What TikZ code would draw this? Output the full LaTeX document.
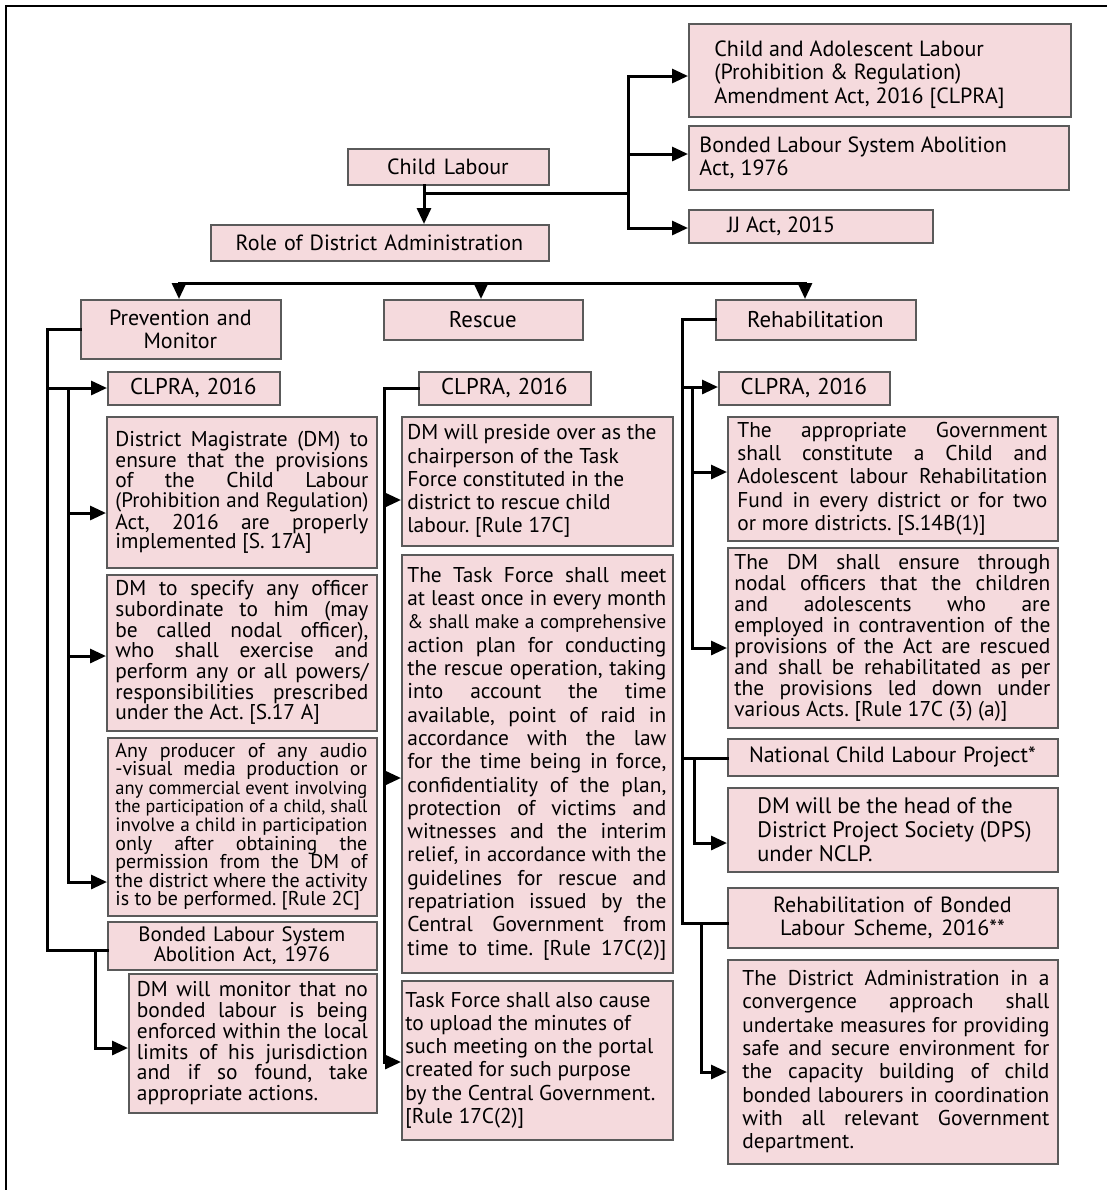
\documentclass[tikz,border=0pt]{standalone}
\usepackage{fontspec}
\setmainfont{PT Sans}
\usetikzlibrary{arrows.meta}
\definecolor{boxpink}{RGB}{245,218,221}
\definecolor{boxgray}{RGB}{90,90,90}
\makeatletter
\newcommand\fitline[2]{%
  \setbox0\hbox{#2}%
  \ifdim\wd0>\hsize
    {\fontsize{\strip@pt\dimexpr\f@size pt*\hsize/\wd0-0.05pt\relax}{\f@baselineskip}\selectfont\makebox[\hsize][#1]{#2}}%
  \else\makebox[\hsize][#1]{#2}\fi}
\makeatother
\newcommand\jl[1]{\fitline{s}{#1}}
\newcommand\rl[1]{\fitline{l}{#1}}
\newcommand\fb[1]{\fontsize{10.7}{#1}\selectfont}
\newcommand\fh[1]{\fontsize{11}{#1}\selectfont}
\newcommand\fc[1]{\fontsize{11.4}{#1}\selectfont}
\def\padx{4.25pt}
\newcommand\bx[7][]{%
  \node[box, minimum width={(#5-#3)*0.5pt}, minimum height={(#6-#4)*0.5pt}, anchor=north west] (#2) at (#3,#4) {};%
  \pgfmathsetlengthmacro\tw{(#5-#3)*0.5pt-8.5pt}%
  \node[txt, text width=\tw, #1, xshift=\padx] (#2t) at (#2.west) {\spaceskip=0pt\xspaceskip=0pt\frenchspacing #7};%
}
\tikzset{
  padx/.store in=\padx,
  box/.style={draw=boxgray, fill=boxpink, line width=0.75pt, inner sep=0pt},
  txt/.style={inner sep=0pt, anchor=west, align=left, font=\fb{11.65}},
  ln/.style={line width=1.5pt, line cap=rect, line join=miter},
  arr/.style={ln, -{Triangle[length=8pt,width=7pt]}},
}
\begin{document}
\begin{tikzpicture}[x=0.5pt, y=-0.5pt]
\useasboundingbox (0,0) rectangle (1107,1190);
% frame
\draw[line width=1.4pt] (6,1190) -- (6,6) -- (1107,6);

% top
\bx[font=\fh{11.75}, yshift=-2pt, padx=13pt, text width=180pt]{b1}{688}{23}{1070}{116}{Child and Adolescent Labour\\(Prohibition \& Regulation)\\Amendment Act, 2016 [CLPRA]}
\bx[font=\fh{11.65}, padx=5.5pt, text width=180pt]{b2}{688}{125}{1068}{189}{Bonded Labour System Abolition\\Act, 1976}
\bx[font=\fh{12}, padx=19.5pt, text width=100pt]{b3}{688}{209}{932}{242}{JJ Act, 2015}
\bx[font=\fh{12}, align=center]{cl}{347}{148}{548}{184}{Child Labour}
\bx[font=\fh{12}, align=center]{role}{210}{224}{548}{260}{Role of District Administration}

% column 1
\bx[font=\fh{11.5}, align=center]{pm}{80}{299}{280}{358}{Prevention and\\Monitor}
\bx[font=\fc{12}, align=center]{cla}{107}{371}{279}{404}{CLPRA, 2016}
\bx[font=\fb{9.85}, padx=4.5pt]{dma}{106}{416}{376}{567}{\jl{District Magistrate (DM) to}\\\jl{ensure that the provisions}\\\jl{of the Child Labour}\\\jl{(Prohibition and Regulation)}\\\jl{Act, 2016 are properly}\\\rl{implemented [S. 17A]}}
\bx[font=\fb{10.35}, padx=4.5pt]{dmb}{106}{574}{376}{730}{\jl{DM to specify any officer}\\\jl{subordinate to him (may}\\\jl{be called nodal officer),}\\\jl{who shall exercise and}\\\jl{perform any or all powers/}\\\jl{responsibilities prescribed}\\\rl{under the Act. [S.17 A]}}
\bx[font={\fontsize{10}{9.3}\selectfont}, padx=4pt]{dmc}{107}{737}{376}{915}{\jl{Any producer of any audio}\\\jl{-visual media production or}\\\jl{any commercial event involving}\\\jl{the participation of a child, shall}\\\jl{involve a child in participation}\\\jl{only after obtaining the}\\\jl{permission from the DM of}\\\jl{the district where the activity}\\\rl{is to be performed. [Rule 2C]}}
\bx[font={\fontsize{10.4}{10}\selectfont}, align=center]{bla}{107}{921}{376}{969}{Bonded Labour System\\Abolition Act, 1976}
\bx[font=\fb{10.35}]{dmd}{128}{973}{376}{1112}{\jl{DM will monitor that no}\\\jl{bonded labour is being}\\\jl{enforced within the local}\\\jl{limits of his jurisdiction}\\\jl{and if so found, take}\\\rl{appropriate actions.}}

% column 2
\bx[font=\fc{12}, align=center]{rs}{383}{299}{582}{339}{Rescue}
\bx[font=\fc{12}, align=center]{clb}{418}{371}{590}{404}{CLPRA, 2016}
\bx[font=\fb{11.65}, padx=3pt, text width=132pt]{dme}{401}{416}{672}{545}{\rl{DM will preside over as the}\\\rl{chairperson of the Task}\\\rl{Force constituted in the}\\\rl{district to rescue child}\\\rl{labour. [Rule 17C]}}
\bx[font=\fb{11.65}, padx=3pt, text width=129.5pt]{tfm}{401}{554}{672}{972}{\jl{The Task Force shall meet}\\\jl{at least once in every month}\\\jl{\& shall make a comprehensive}\\\jl{action plan for conducting}\\\jl{the rescue operation, taking}\\\jl{into account the time}\\\jl{available, point of raid in}\\\jl{accordance with the law}\\\jl{for the time being in force,}\\\jl{confidentiality of the plan,}\\\jl{protection of victims and}\\\jl{witnesses and the interim}\\\jl{relief, in accordance with the}\\\jl{guidelines for rescue and}\\\jl{repatriation issued by the}\\\jl{Central Government from}\\\jl{time to time. [Rule 17C(2)]}}
\bx[font=\fb{11.65}, padx=2pt, text width=132pt]{tfu}{401}{980}{672}{1139}{\rl{Task Force shall also cause}\\\rl{to upload the minutes of}\\\rl{such meeting on the portal}\\\rl{created for such purpose}\\\rl{by the Central Government.}\\\rl{[Rule 17C(2)]}}

% column 3
\bx[font=\fc{12}, align=center]{rh}{715}{299}{915}{339}{Rehabilitation}
\bx[font=\fc{12}, align=center]{clc}{718}{371}{889}{404}{CLPRA, 2016}
\bx[font=\fb{11.65}, padx=5pt, text width=155pt]{ag}{727}{416}{1057}{540}{\jl{The appropriate Government}\\\jl{shall constitute a Child and}\\\jl{Adolescent labour Rehabilitation}\\\jl{Fund in every district or for two}\\\rl{or more districts. [S.14B(1)]}}
\bx[font=\fb{10.5}, padx=3.5pt, text width=158pt]{dmf}{727}{547}{1057}{727}{\jl{The DM shall ensure through}\\\jl{nodal officers that the children}\\\jl{and adolescents who are}\\\jl{employed in contravention of the}\\\jl{provisions of the Act are rescued}\\\jl{and shall be rehabilitated as per}\\\jl{the provisions led down under}\\\rl{various Acts. [Rule 17C (3) (a)]}}
\bx[font=\fh{12}, align=center]{nclp}{727}{738}{1057}{775}{National Child Labour Project*}
\bx[font={\fontsize{11.2}{11.9}\selectfont}, padx=15pt, text width=145pt]{dmg}{727}{787}{1057}{871}{\rl{DM will be the head of the}\\\rl{District Project Society (DPS)}\\\rl{under NCLP.}}
\bx[font=\fh{11.65}, align=center]{rbs}{727}{887}{1057}{947}{Rehabilitation of Bonded\\Labour Scheme, 2016**}
\bx[font=\fb{11.65}, padx=7.5pt, text width=153.5pt]{da}{727}{959}{1057}{1163}{\jl{The District Administration in a}\\\jl{convergence approach shall}\\\jl{undertake measures for providing}\\\jl{safe and secure environment for}\\\jl{the capacity building of child}\\\jl{bonded labourers in coordination}\\\jl{with all relevant Government}\\\rl{department.}}

% ---- connectors: top
\coordinate (c424) at (424,193);
\coordinate (j628) at (628,193);
\coordinate (ta) at (628,76);
\coordinate (tb) at (628,154);
\coordinate (tc) at (628,228);
\draw[arr] (cl.south -| c424) -- (role.north -| c424);
\draw[ln] (c424) -- (j628);
\draw[ln] (ta) -- (tc);
\draw[arr] (ta) -- (ta -| b1.west);
\draw[arr] (tb) -- (tb -| b2.west);
\draw[arr] (tc) -- (tc -| b3.west);

% split
\coordinate (h1) at (179,283);
\coordinate (h2) at (481,283);
\coordinate (h3) at (805,283);
\draw[ln] (h1) -- (h3);
\draw[arr] (h1) -- (h1 |- pm.north);
\draw[arr] (h2) -- (h2 |- rs.north);
\draw[arr] (h3) -- (h3 |- rh.north);

% column 1
\coordinate (l1b) at (47,950);
\coordinate (k1) at (47,388);
\draw[ln] (pm.west) -| (l1b) -- (l1b -| bla.west);
\draw[arr] (k1) -- (k1 -| cla.west);
\coordinate (m1) at (68,388);
\coordinate (m2) at (68,513);
\coordinate (m3) at (68,656);
\coordinate (m4) at (68,882);
\draw[ln] (m1) -- (m4);
\draw[arr] (m2) -- (m2 -| dma.west);
\draw[arr] (m3) -- (m3 -| dmb.west);
\draw[arr] (m4) -- (m4 -| dmc.west);
\coordinate (n1) at (95,950);
\coordinate (n2) at (95,1048);
\draw[arr] (n1) -- (n2) -- (n2 -| dmd.west);

% column 2
\coordinate (r1) at (384,500);
\coordinate (r2) at (384,778);
\coordinate (r3) at (384,1062);
\draw[ln] (clb.west) -| (r3);
\draw[arr] (r1) -- (r1 -| dme.west);
\draw[arr] (r2) -- (r2 -| tfm.west);
\draw[arr] (r3) -- (r3 -| tfu.west);

% column 3
\coordinate (p1) at (682,923);
\coordinate (q0) at (682,387);
\draw[ln] (rh.west) -| (p1) -- (p1 -| rbs.west);
\draw[arr] (q0) -- (q0 -| clc.west);
\coordinate (q1) at (692,387);
\coordinate (q2) at (692,472);
\coordinate (q3) at (692,648);
\draw[ln] (q1) -- (q3);
\draw[arr] (q2) -- (q2 -| ag.west);
\draw[arr] (q3) -- (q3 -| dmf.west);
\coordinate (s1) at (682,758);
\coordinate (s2) at (694,758);
\coordinate (s3) at (694,843);
\draw[ln] (s1) -- (s1 -| nclp.west);
\draw[arr] (s2) -- (s3) -- (s3 -| dmg.west);
\coordinate (u1) at (701,923);
\coordinate (u2) at (701,1072);
\draw[arr] (u1) -- (u2) -- (u2 -| da.west);
\end{tikzpicture}
\end{document}
